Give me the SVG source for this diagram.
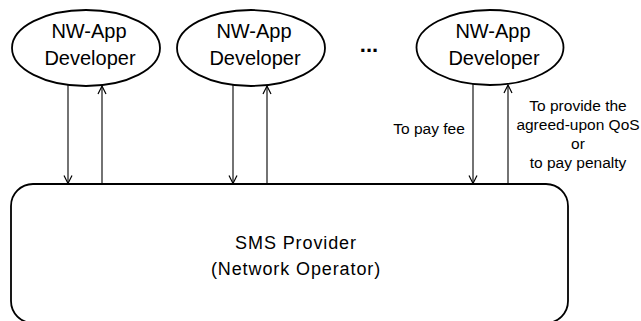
<svg xmlns="http://www.w3.org/2000/svg" width="641" height="321" viewBox="0 0 641 321">
<style>
.node{fill:#fff;stroke:#000;stroke-width:1.8}
.big{font-family:"Liberation Sans",Arial,"Noto Sans CJK JP",sans-serif;font-size:20px;fill:#000;text-anchor:middle}
.mid{font-family:"Liberation Sans",Arial,"Noto Sans CJK JP",sans-serif;font-size:18px;letter-spacing:0.9px;fill:#000;text-anchor:middle}
.lbl{font-family:"Liberation Sans",Arial,"Noto Sans CJK JP",sans-serif;font-size:15.5px;fill:#000;text-anchor:middle}
.conn line{stroke:#000;stroke-width:1.1;fill:none}
</style>
<defs>
<marker id="arr" markerUnits="userSpaceOnUse" viewBox="-10 -6 12 12" markerWidth="12" markerHeight="12" refX="0" refY="0" orient="auto">
<path d="M-8,-4 L0,0 L-8,4" fill="none" stroke="#000" stroke-width="1.2"/>
</marker>
</defs>
<rect width="641" height="321" fill="#fff"/>
<g id="dev1">
<ellipse class="node" cx="86" cy="48" rx="74" ry="38"/>
<text class="big" x="89" y="38">NW-App</text>
<text class="big" x="90" y="65">Developer</text>
</g>
<g id="dev2">
<ellipse class="node" cx="251" cy="48" rx="74" ry="38"/>
<text class="big" x="254" y="38">NW-App</text>
<text class="big" x="255" y="65">Developer</text>
</g>
<g id="ellipsis">
<text x="369" y="52" style="font-family:'Liberation Sans',Arial,sans-serif;font-size:22px;font-weight:bold;text-anchor:middle">...</text>
</g>
<g id="dev3">
<ellipse class="node" cx="490" cy="47.5" rx="73.5" ry="37.5"/>
<text class="big" x="493" y="38">NW-App</text>
<text class="big" x="494" y="65">Developer</text>
</g>
<g id="provider">
<rect class="node" x="11" y="184" width="557" height="139" rx="22" ry="22"/>
<text class="mid" x="296" y="249">SMS Provider</text>
<text class="mid" x="296" y="275">(Network Operator)</text>
</g>
<g class="conn" id="connectors">
<line x1="68" y1="85" x2="68" y2="183.5" marker-end="url(#arr)"/>
<line x1="102" y1="184" x2="102" y2="86" marker-end="url(#arr)"/>
<line x1="233" y1="85" x2="233" y2="183.5" marker-end="url(#arr)"/>
<line x1="267" y1="184" x2="267" y2="86" marker-end="url(#arr)"/>
<line x1="473" y1="84" x2="473" y2="183.5" marker-end="url(#arr)"/>
<line x1="508" y1="184" x2="508" y2="85" marker-end="url(#arr)"/>
</g>
<g id="labels">
<text class="lbl" x="429" y="134">To pay fee</text>
<text class="lbl" x="578" y="111">To provide the</text>
<text class="lbl" x="578" y="130">agreed-upon QoS</text>
<text class="lbl" x="578" y="149">or</text>
<text class="lbl" x="578" y="168">to pay penalty</text>
</g>
</svg>
